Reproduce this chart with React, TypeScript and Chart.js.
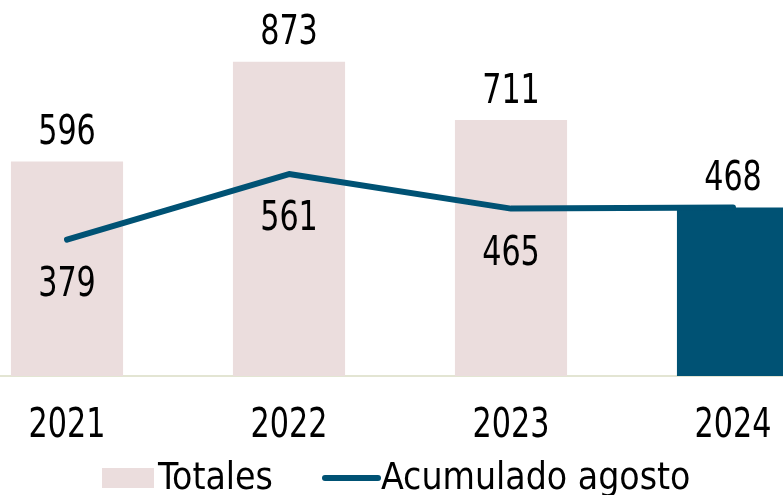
import { useEffect, useRef } from 'react';
import { Chart, registerables } from 'chart.js';

Chart.register(...registerables);

const categories = ['2021', '2022', '2023', '2024'];
const totales = [596, 873, 711, 468];
const acumulado = [379, 561, 465, 468];
const barColors = ['#EBDDDD', '#EBDDDD', '#EBDDDD', '#005274'];
const lineLabelShown = [true, true, true, false];
const legendLabels = ['Totales', 'Acumulado agosto'];

const FONT = "'DejaVu Sans Condensed', 'DejaVu Sans', sans-serif";
const PINK = '#EBDDDD';
const BLUE = '#005274';
const OFFSET_X = 44;
const NUM_SCALE = 0.84;

function drawNarrow(ctx: CanvasRenderingContext2D, text: string, x: number, y: number) {
  ctx.save();
  ctx.translate(x, y);
  ctx.scale(NUM_SCALE, 1);
  ctx.fillText(text, 0, 0);
  ctx.restore();
}

const labelPlugin = {
  id: 'valueLabels',
  afterDatasetsDraw(chart: any) {
    const ctx = chart.ctx;
    ctx.save();
    ctx.font = `40px ${FONT}`;
    ctx.fillStyle = '#000';
    ctx.textAlign = 'center';
    ctx.textBaseline = 'alphabetic';
    const barMeta = chart.getDatasetMeta(0);
    barMeta.data.forEach((el: any, i: number) => {
      drawNarrow(ctx, String(totales[i]), el.x, el.y - 17.5);
    });
    const lineMeta = chart.getDatasetMeta(1);
    lineMeta.data.forEach((el: any, i: number) => {
      if (lineLabelShown[i]) drawNarrow(ctx, String(acumulado[i]), el.x, el.y + 56);
    });
    const xs = chart.scales.x;
    categories.forEach((c, i) => {
      drawNarrow(ctx, c, xs.getPixelForValue(i), chart.chartArea.bottom + 61);
    });
    ctx.restore();
  },
  afterDraw(chart: any) {
    const ctx = chart.ctx;
    const b = chart.chartArea.bottom;
    ctx.save();
    ctx.font = `37px ${FONT}`;
    ctx.fillStyle = PINK;
    ctx.fillRect(102 + OFFSET_X, b + 92, 52, 20);
    ctx.strokeStyle = BLUE;
    ctx.lineWidth = 6;
    ctx.lineCap = 'round';
    ctx.beginPath();
    ctx.moveTo(325 + OFFSET_X, b + 102);
    ctx.lineTo(378 + OFFSET_X, b + 102);
    ctx.stroke();
    ctx.fillStyle = '#000';
    ctx.textAlign = 'left';
    ctx.textBaseline = 'alphabetic';
    ctx.fillText(legendLabels[0], 158 + OFFSET_X, b + 113);
    ctx.fillText(legendLabels[1], 381 + OFFSET_X, b + 113);
    ctx.restore();
  },
};

function App() {
  const ref = useRef<HTMLCanvasElement | null>(null);
  useEffect(() => {
    if (!ref.current) return;
    const chart = new Chart(ref.current, {
      type: 'bar',
      data: {
        labels: categories,
        datasets: [
          {
            type: 'bar',
            label: legendLabels[0],
            data: totales,
            backgroundColor: barColors,
            categoryPercentage: 1,
            barPercentage: 0.505,
            order: 2,
          },
          {
            type: 'line',
            label: legendLabels[1],
            data: acumulado,
            borderColor: BLUE,
            borderWidth: 6,
            pointRadius: 0,
            tension: 0,
            borderCapStyle: 'round',
            borderJoinStyle: 'round',
            order: 1,
          } as any,
        ],
      },
      options: {
        responsive: false,
        animation: false,
        layout: { padding: { top: 16, bottom: 119, left: 0, right: 0 } },
        plugins: { legend: { display: false }, tooltip: { enabled: false } },
        scales: {
          x: {
            grid: { display: false, drawTicks: false },
            border: { display: true, color: '#E3E5D3', width: 2 },
            ticks: { display: false },
          },
          y: {
            display: false,
            min: 0,
            max: 1000,
          },
        },
      },
      plugins: [labelPlugin],
    });
    return () => chart.destroy();
  }, []);
  return (
    <div style={{ position: 'fixed', left: 0, top: 0, width: 783, height: 495, overflow: 'hidden', background: '#fff' }}>
      <canvas ref={ref} width={888} height={495} style={{ position: 'absolute', left: -OFFSET_X, top: 0, width: 888, height: 495 }} />
    </div>
  );
}

export default App;
